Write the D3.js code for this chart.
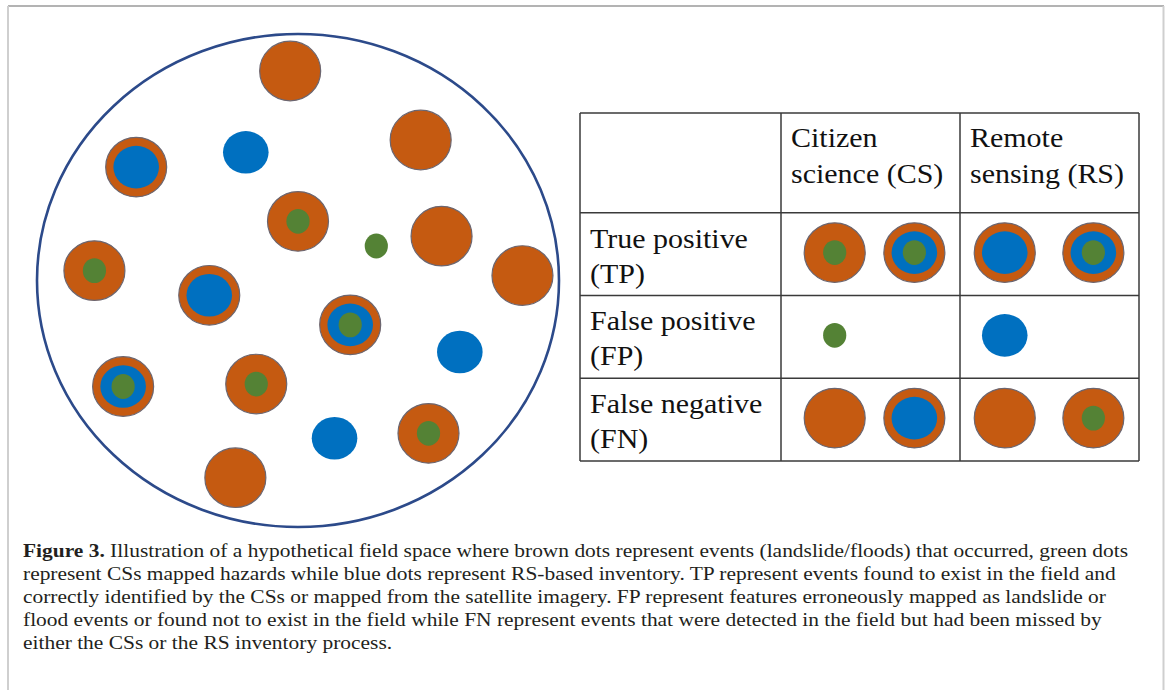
<!DOCTYPE html>
<html>
<head>
<meta charset="utf-8">
<script src="https://cdn.jsdelivr.net/npm/d3@7"></script>
<style>
  body { margin: 0; background: #fff; }
  svg { display: block; }
</style>
</head>
<body>
<div id="container"></div>
<script>
(function(){

    const width = 1168;
    const height = 690;

    // field dots, position in field units (-1..1 across the big circle)
    // kind: E = event (brown), R = remote sensing (blue), C = citizen science (green)
    const fieldDots = [
        {x: -0.03, y: -0.85, kind: "E"},
        {x: -0.20, y: -0.52, kind: "R"},
        {x: -0.62, y: -0.46, kind: "ER"},
        {x:  0.47, y: -0.57, kind: "E"},
        {x:  0.00, y: -0.24, kind: "EC"},
        {x:  0.30, y: -0.14, kind: "C"},
        {x:  0.55, y: -0.18, kind: "E"},
        {x:  0.86, y: -0.02, kind: "E"},
        {x: -0.78, y: -0.04, kind: "EC"},
        {x: -0.34, y:  0.06, kind: "ER"},
        {x:  0.20, y:  0.18, kind: "ERC"},
        {x:  0.62, y:  0.29, kind: "R"},
        {x: -0.67, y:  0.43, kind: "ERC"},
        {x: -0.16, y:  0.42, kind: "EC"},
        {x:  0.14, y:  0.64, kind: "R"},
        {x:  0.50, y:  0.62, kind: "EC"},
        {x: -0.24, y:  0.80, kind: "E"}
    ];

    const colLabels = [["Citizen", "science (CS)"], ["Remote", "sensing (RS)"]];
    const rowLabels = [["True positive", "(TP)"], ["False positive", "(FP)"], ["False negative", "(FN)"]];
    const cellDots = [
        [["EC", "ERC"], ["ER", "ERC"]],
        [["C"],         ["R"]],
        [["E", "ER"],   ["E", "EC"]]
    ];

    const captionLines = [
        ["Figure 3.", " Illustration of a hypothetical field space where brown dots represent events (landslide/floods) that occurred, green dots"],
        ["", "represent CSs mapped hazards while blue dots represent RS-based inventory. TP represent events found to exist in the field and"],
        ["", "correctly identified by the CSs or mapped from the satellite imagery. FP represent features erroneously mapped as landslide or"],
        ["", "flood events or found not to exist in the field while FN represent events that were detected in the field but had been missed by"],
        ["", "either the CSs or the RS inventory process."]
    ];

    const colors = {E: "#c55a11", R: "#0070c0", C: "#548235"};
    const layerSize = {
        E: {rx: 30.5, ry: 29.8},
        R: {rx: 22.8, ry: 21.3},
        C: {rx: 11.6, ry: 12.4}
    };

    const svg = d3.select("#container").append("svg")
        .attr("width", width)
        .attr("height", height);

    // ============================================================ FRAME
    svg.append("line")
        .attr("x1", 8).attr("x2", 1164).attr("y1", 6).attr("y2", 6)
        .attr("stroke", "#9a9a9a").attr("stroke-width", 1.5);
    svg.append("line")
        .attr("x1", 8).attr("x2", 8).attr("y1", 6).attr("y2", height)
        .attr("stroke", "#cfcfcf").attr("stroke-width", 2);
    svg.append("line")
        .attr("x1", 1163.5).attr("x2", 1163.5).attr("y1", 6).attr("y2", height)
        .attr("stroke", "#cfcfcf").attr("stroke-width", 2);

    function drawDot(g, kind, cx, cy) {
        const dot = g.append("g").attr("transform", `translate(${cx},${cy})`);
        ["E", "R", "C"].filter(k => kind.includes(k)).forEach(k => {
            dot.append("ellipse")
                .attr("rx", layerSize[k].rx)
                .attr("ry", layerSize[k].ry)
                .attr("fill", colors[k])
                .attr("stroke", k === "E" ? "#6c6670" : "none")
                .attr("stroke-width", 1.2);
        });
    }

    // ============================================================ FIELD
    const fx = d3.scaleLinear([-1, 1], [37, 559]);
    const fy = d3.scaleLinear([-1, 1], [34, 527]);

    const field = svg.append("g");
    field.append("ellipse")
        .attr("cx", fx(0)).attr("cy", fy(0))
        .attr("rx", fx(1) - fx(0)).attr("ry", fy(1) - fy(0))
        .attr("fill", "none")
        .attr("stroke", "#2c4a8a")
        .attr("stroke-width", 2.6);

    fieldDots.forEach(d => drawDot(field, d.kind, fx(d.x), fy(d.y)));

    // ============================================================ TABLE
    const tableLeft = 580, tableTop = 113, headerBottom = 212.7;
    const colX = d3.scaleBand().domain(d3.range(colLabels.length)).range([781, 1139]);
    const rowY = d3.scaleBand().domain(d3.range(rowLabels.length)).range([headerBottom, 461]);
    const tableRight = colX.range()[1], tableBottom = rowY.range()[1];

    const table = svg.append("g");
    const gridColor = "#3a3a3a";

    // horizontal rules
    [tableTop, headerBottom, ...rowLabels.map((_, i) => rowY(i) + rowY.bandwidth())].forEach(y => {
        table.append("line")
            .attr("x1", tableLeft).attr("x2", tableRight)
            .attr("y1", y).attr("y2", y)
            .attr("stroke", gridColor).attr("stroke-width", 1.5);
    });
    // vertical rules
    [tableLeft, ...colLabels.map((_, i) => colX(i)), tableRight].forEach(x => {
        table.append("line")
            .attr("x1", x).attr("x2", x)
            .attr("y1", tableTop).attr("y2", tableBottom)
            .attr("stroke", gridColor).attr("stroke-width", 1.5);
    });

    const stretch = 1.11;
    function widen(sel, k) {
        sel.each(function() {
            const w = this.getComputedTextLength();
            d3.select(this).attr("textLength", w * k).attr("lengthAdjust", "spacingAndGlyphs");
        });
    }

    const tableFont = "'Liberation Serif', 'Times New Roman', serif";

    colLabels.forEach((lines, i) => {
        lines.forEach((line, j) => {
            table.append("text")
                .attr("x", colX(i) + 10)
                .attr("y", tableTop + 34 + j * 36)
                .attr("font-family", tableFont)
                .attr("font-size", 27)
                .attr("fill", "#111")
                .text(line)
                .call(widen, stretch);
        });
    });

    rowLabels.forEach((lines, i) => {
        lines.forEach((line, j) => {
            table.append("text")
                .attr("x", tableLeft + 10)
                .attr("y", rowY(i) + 35 + j * 35)
                .attr("font-family", tableFont)
                .attr("font-size", 27)
                .attr("fill", "#111")
                .text(line)
                .call(widen, stretch);
        });
    });

    // dots inside cells
    const slotFrac = [[0.30, 0.745], [0.25, 0.745]];
    cellDots.forEach((row, i) => {
        row.forEach((kinds, j) => {
            const cy = rowY(i) + rowY.bandwidth() / 2 - 1.5;
            kinds.forEach((kind, s) => {
                const cx = colX(j) + colX.bandwidth() * slotFrac[j][s];
                drawDot(table, kind, cx, cy);
            });
        });
    });

    // ============================================================ CAPTION
    const captionX = 23, captionY = 557, lineH = 23;
    const captionFont = "'Liberation Serif', 'Times New Roman', serif";
    const caption = svg.append("g")
        .attr("font-family", captionFont)
        .attr("font-size", 19)
        .attr("fill", "#231f20");

    const texts = captionLines.map(([bold, rest], i) => {
        const t = caption.append("text")
            .attr("x", captionX)
            .attr("y", captionY + i * lineH);
        if (bold) t.append("tspan").attr("font-weight", "bold").text(bold);
        t.append("tspan").text(rest);
        return t;
    });

    // stretch all lines uniformly so the first line ends where it does in the figure
    const firstW = texts[0].node().getComputedTextLength();
    const k = (1128 - captionX) / firstW;
    texts.forEach(t => {
        const w = t.node().getComputedTextLength();
        t.attr("textLength", w * k).attr("lengthAdjust", "spacingAndGlyphs");
    });

})();
</script>
</body>
</html>
